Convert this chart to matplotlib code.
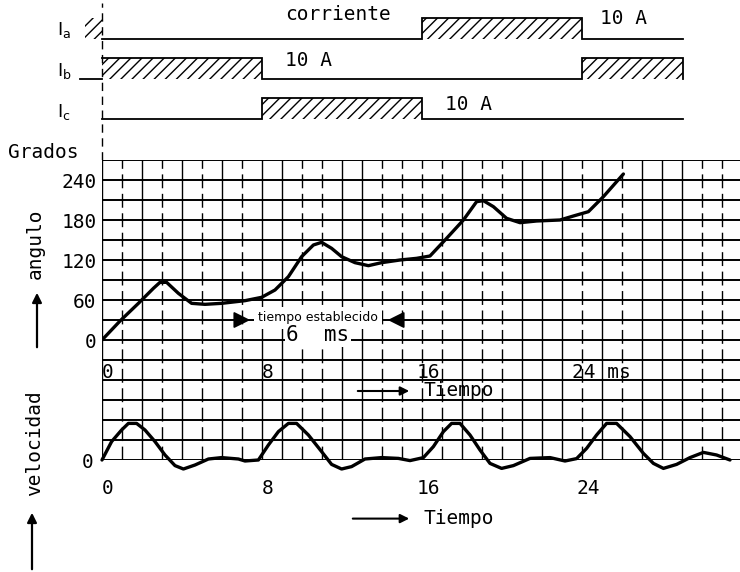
import matplotlib
matplotlib.use("Agg")
import matplotlib.pyplot as plt

# ---------------------------------------------------------------- data
# phase-current schedule: interval edges (ms) and current per interval (A)
phase_edges = [0, 8, 16, 24, 29.05]
amp = 10
ia = [0, 0, 10, 0]
ib = [10, 0, 0, 10]
ic = [0, 10, 0, 0]

# rotor angle (degrees) versus time (ms)
angle_t = [0, 0.9, 1.82, 2.57, 2.9, 3.23, 3.82, 4.48, 5.15, 5.98, 7.15, 7.98,
           8.65, 9.32, 9.98, 10.57, 10.98, 11.48, 11.98, 12.65, 13.32, 13.98,
           14.9, 15.73, 16.4, 17.23, 18.07, 18.73, 19.07, 19.57, 20.23, 20.9,
           21.73, 22.9, 23.57, 24.32, 25.07, 26.07]
angle_deg = [0, 28.5, 55, 77.5, 86.5, 86.5, 70, 55, 53.5, 55, 59, 64,
             75, 95, 125, 142.5, 146.5, 137.5, 125, 116, 111.5, 116,
             120, 122.5, 126, 152.5, 180, 207.5, 209, 200, 182.5, 176,
             178.5, 180, 186, 192.5, 215, 249]

# rotor speed (grid units) versus time (ms)
vel_t = [0, 0.48, 0.98, 1.32, 1.73, 2.15, 2.65, 3.15, 3.65, 4.07, 4.65, 5.32,
         5.98, 6.82, 7.15, 7.82, 8.32, 8.82, 9.32, 9.73, 10.32, 10.98, 11.48,
         11.98, 12.48, 13.15, 13.98, 14.82, 15.4, 16.07, 16.57, 17.07, 17.48,
         17.9, 18.4, 18.9, 19.4, 19.98, 20.57, 21.4, 22.4, 23.15, 23.73,
         24.23, 24.73, 25.23, 25.73, 26.4, 27.07, 27.57, 28.07, 28.73, 29.4,
         30.07, 30.73, 31.4]
vel = [0, 0.92, 1.5, 1.83, 1.83, 1.5, 0.92, 0.25, -0.28, -0.45, -0.25, 0.05,
       0.12, 0.05, -0.05, 0, 0.75, 1.42, 1.83, 1.83, 1.25, 0.42, -0.22,
       -0.45, -0.33, 0.05, 0.12, 0.08, -0.03, 0.12, 0.67, 1.42, 1.83,
       1.83, 1.25, 0.5, -0.17, -0.42, -0.28, 0.08, 0.12, -0.05, 0.07,
       0.58, 1.25, 1.83, 1.83, 1.17, 0.33, -0.17, -0.42, -0.22, 0.12,
       0.38, 0.25, 0]

angle_ticks = [0, 60, 120, 180, 240]
time_ticks = [0, 8, 16, 24]
settle_ms = 6

# ---------------------------------------------------------------- style
FONT = "DejaVu Sans Mono"
plt.rcParams["font.family"] = [FONT, "DejaVu Sans"]
plt.rcParams["mathtext.fontset"] = "dejavusans"
plt.rcParams["hatch.linewidth"] = 1.0
FS = 14

W, H = 740, 572
fig = plt.figure(figsize=(W / 100, H / 100), dpi=100)
fig.patch.set_facecolor("white")


def box(x0, y0, x1, y1):
    """Axes rectangle from pixel corners (origin top-left)."""
    return [x0 / W, 1 - y1 / H, (x1 - x0) / W, (y1 - y0) / H]


def fpx(x, y):
    return x / W, 1 - y / H


# ---------------------------------------------------------------- currents
ax_i = fig.add_axes(box(0, 0, W, 160))
ax_i.set_xlim(-5.1, 31.9)
ax_i.set_ylim(0, 160 / 2.1)
ax_i.axis("off")

HATCH = "///"
base = {"a": 57.4, "b": 38.6, "c": 19.5}
series = {"a": ia, "b": ib, "c": ic}
for key, vals in series.items():
    b0 = base[key]
    xs, ys = [], []
    for k, v in enumerate(vals):
        t0, t1 = phase_edges[k], phase_edges[k + 1]
        xs += [t0, t1]
        ys += [b0 + v, b0 + v]
        if v > 0:
            ax_i.fill_between([t0, t1], b0, b0 + v, facecolor="none",
                              edgecolor="k", hatch=HATCH, linewidth=0)
    if vals[-1] > 0:
        xs.append(phase_edges[-1])
        ys.append(b0)
    ax_i.plot(xs, ys, color="k", lw=1.3, solid_joinstyle="miter")

# tail of the previous cycle just before t = 0
ax_i.fill_between([-0.85, 0], base["a"], base["a"] + amp, facecolor="none",
                  edgecolor="k", hatch=HATCH, linewidth=0)
ax_i.plot([-1.1, 0], [base["b"], base["b"]], color="k", lw=1.3)
ax_i.axvline(0, ymin=0, ymax=0.98, color="k", lw=1.0, ls=(0, (6, 4)))

fig.text(*fpx(57, 30), r"$\mathregular{I_a}$", fontsize=13, va="center",
         family="DejaVu Sans")
fig.text(*fpx(57, 71), r"$\mathregular{I_b}$", fontsize=13, va="center",
         family="DejaVu Sans")
fig.text(*fpx(57, 112), r"$\mathregular{I_c}$", fontsize=13, va="center",
         family="DejaVu Sans")
fig.text(*fpx(285, 15), "corriente", fontsize=FS, va="center")
fig.text(*fpx(600, 18), f"{amp} A", fontsize=FS, va="center")
fig.text(*fpx(285, 60), f"{amp} A", fontsize=FS, va="center")
fig.text(*fpx(445, 104), f"{amp} A", fontsize=FS, va="center")

# ---------------------------------------------------------------- grid + angle
ax_a = fig.add_axes(box(102, 160, W, 460))
ax_a.set_xlim(0, 31.9)
ax_a.set_ylim(-180, 270)
for s in ax_a.spines.values():
    s.set_visible(False)

dashed_cols = {1, 3, 5, 7, 10, 11, 14, 15, 16, 17, 19, 20, 24, 26, 30, 31}
for t in range(0, 32):
    ls = (0, (10, 4)) if t in dashed_cols else "-"
    ax_a.axvline(t, color="k", lw=1.0, ls=ls, zorder=1)
for d in range(-180, 271, 30):
    ax_a.axhline(d, color="k", lw=1.4, zorder=1)

ax_a.set_xticks([])
ax_a.set_yticks(angle_ticks)
ax_a.set_yticklabels([str(v) for v in angle_ticks], fontsize=FS)
ax_a.tick_params(axis="y", length=0, pad=4)

ax_a.plot(angle_t, angle_deg, color="k", lw=2.4, zorder=4,
          solid_capstyle="round", solid_joinstyle="round")

for t in time_ticks[:-1]:
    ax_a.text(t + 0.3, -48, str(t), fontsize=FS, ha="center", va="center")
ax_a.text(time_ticks[-1] - 0.5, -48, f"{time_ticks[-1]} ms", fontsize=FS,
          ha="left", va="center")

ax_a.annotate("", xy=(15.5, -76.5), xytext=(12.65, -76.5),
              arrowprops=dict(arrowstyle="-|>", color="k", lw=1.5,
                              mutation_scale=13))
ax_a.text(16.05, -76.5, "Tiempo", fontsize=FS, ha="left", va="center")

# settling-time annotation
ax_a.text(10.8, 33, "tiempo establecido", fontsize=9, ha="center",
          va="center", zorder=3, family="DejaVu Sans",
          bbox=dict(facecolor="white", edgecolor="none", pad=3))
ax_a.text(10.8, 7, f"{settle_ms}  ms", fontsize=15, ha="center",
          va="center", zorder=3,
          bbox=dict(facecolor="white", edgecolor="none", pad=1))
ax_a.annotate("", xy=(7.55, 30), xytext=(6.6, 30), zorder=5,
              arrowprops=dict(arrowstyle="-|>", color="k", lw=1.3,
                              mutation_scale=25))
ax_a.annotate("", xy=(14.15, 30), xytext=(15.1, 30), zorder=5,
              arrowprops=dict(arrowstyle="-|>", color="k", lw=1.3,
                              mutation_scale=25))

# ---------------------------------------------------------------- velocity
ax_v = fig.add_axes(box(102, 160, W, 460))
ax_v.patch.set_visible(False)
ax_v.set_xlim(0, 31.9)
ax_v.set_ylim(0, 15)
for s in ax_v.spines.values():
    s.set_visible(False)
ax_v.set_xticks([])
ax_v.set_yticks([0])
ax_v.set_yticklabels(["0"], fontsize=FS)
ax_v.tick_params(axis="y", length=0, pad=6)

ax_v.plot(vel_t, vel, color="k", lw=2.4, clip_on=False, zorder=4,
          solid_capstyle="round", solid_joinstyle="round")

for t in time_ticks:
    ax_v.text(t + 0.3, -1.45, str(t), fontsize=FS, ha="center", va="center")
ax_v.annotate("", xy=(15.5, -2.93), xytext=(12.4, -2.93),
              annotation_clip=False,
              arrowprops=dict(arrowstyle="-|>", color="k", lw=1.5,
                              mutation_scale=13))
ax_v.text(16.05, -2.93, "Tiempo", fontsize=FS, ha="left", va="center")

# ---------------------------------------------------------------- side labels
fig.text(*fpx(8, 153), "Grados", fontsize=FS, va="center")
fig.text(*fpx(35, 244), "angulo", fontsize=FS, rotation=90,
         ha="center", va="center")
fig.text(*fpx(35, 443), "velocidad", fontsize=FS, rotation=90,
         ha="center", va="center")
fig.add_artist(matplotlib.patches.FancyArrowPatch(
    fpx(37, 350), fpx(37, 290), transform=fig.transFigure,
    arrowstyle="-|>", mutation_scale=14, color="k", lw=1.6))
fig.add_artist(matplotlib.patches.FancyArrowPatch(
    fpx(32, 572), fpx(32, 510), transform=fig.transFigure,
    arrowstyle="-|>", mutation_scale=14, color="k", lw=1.6))

fig.savefig("out.png", dpi=100, facecolor="white")
